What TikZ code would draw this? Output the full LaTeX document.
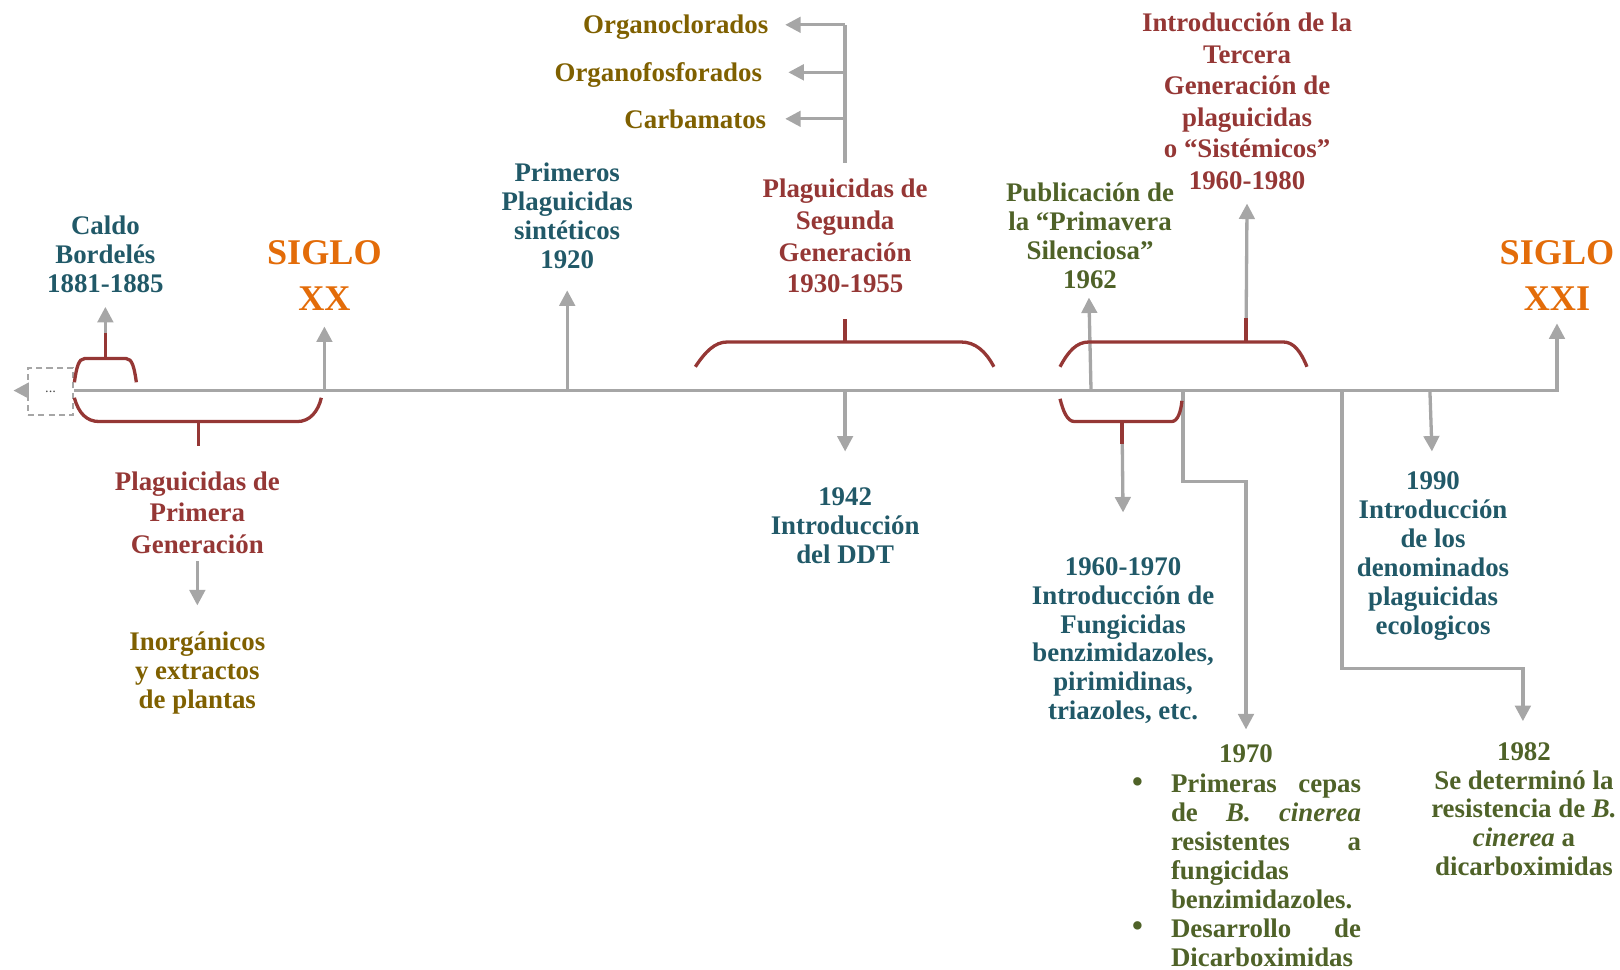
\documentclass[tikz,border=0pt]{standalone}
\usepackage{fontspec}
\setmainfont{Liberation Serif}
\usetikzlibrary{arrows.meta}
\definecolor{cteal}{HTML}{215968}
\definecolor{cred}{HTML}{953735}
\definecolor{colive}{HTML}{7F6000}
\definecolor{cgreen}{HTML}{4F6228}
\definecolor{corange}{HTML}{E36C09}
\definecolor{cgray}{HTML}{A6A6A6}
\begin{document}
\begin{tikzpicture}[x=0.5pt,y=-0.5pt,
 conn/.style={draw=cgray, line width=1.6pt, -{Triangle[length=7.5pt,width=7.5pt]}},
 gline/.style={draw=cgray, line width=1.6pt},
 brace/.style={draw=cred, line width=1.6pt},
 lbl/.style={font=\bfseries\fontsize{13}{14}\selectfont, align=center, inner sep=0pt, anchor=north},
 lblr/.style={font=\bfseries\fontsize{13}{15.3}\selectfont, align=center, inner sep=0pt, anchor=north, text=cred},
 one/.style={font=\bfseries\fontsize{13}{14}\selectfont, inner sep=0pt},
 big/.style={font=\bfseries\fontsize{17.5}{22.5}\selectfont, align=center, inner sep=0pt, anchor=north, text=corange},
 para/.style={font=\bfseries\fontsize{13}{14}\selectfont, text width=92pt, align=justify, inner sep=0pt, anchor=north west, text=cgreen}
]
\useasboundingbox (0,0) rectangle (1568,938);

% ---------- text nodes ----------
\node[lbl, text=cteal] (caldo) at (102,209) {Caldo\\Bordelés\\1881-1885};
\node[big] (s20) at (314,232) {SIGLO\\XX};
\node[lblr] (prim) at (191,456) {Plaguicidas de\\Primera\\Generación};
\node[lbl, text=colive] (inorg) at (191,611) {Inorgánicos\\y extractos\\de plantas};
\node[lbl, text=cteal] (sint) at (549,157) {Primeros\\Plaguicidas\\sintéticos\\1920};
\node[one, text=colive, anchor=base east] (oc) at (744,32) {Organoclorados};
\node[one, text=colive, anchor=base east] (of) at (738,79) {Organofosforados};
\node[one, text=colive, anchor=base east] (carb) at (742,124) {Carbamatos};
\node[lblr] (seg) at (818,173) {Plaguicidas de\\Segunda\\Generación\\1930-1955};
\node[lbl, text=cteal] (ddt) at (818,472) {1942\\Introducción\\del DDT};
\node[lbl, text=cgreen] (prv) at (1055,177) {Publicación de\\la “Primavera\\Silenciosa”\\1962};
\node[lblr] (terc) at (1207,12) {Introducción de la\\Tercera\\Generación de\\plaguicidas\\o “Sistémicos”\\1960-1980};
\node[lbl, text=cteal] (fung) at (1087,539) {1960-1970\\Introducción de\\Fungicidas\\benzimidazoles,\\pirimidinas,\\triazoles, etc.};
\node[lbl, text=cgreen] (y1970) at (1206,720) {1970};
\node[para] (b1) at (1133,749) {Primeras cepas\linebreak de \textit{B.} \textit{cinerea}\linebreak resistentes a\linebreak fungicidas\newline benzimidazoles.};
\node[para] (b2) at (1133,889) {Desarrollo de\linebreak Dicarboximidas};
\node[text=cgreen, inner sep=0pt, font=\fontsize{17}{17}\selectfont] (dot1) at (1101,760) {\textbullet};
\node[text=cgreen, inner sep=0pt, font=\fontsize{17}{17}\selectfont] (dot2) at (1101,900) {\textbullet};
\node[lbl, text=cgreen] (y1982) at (1475,718) {1982\\Se determinó la\\resistencia de \textit{B.}\\\textit{cinerea} a\\dicarboximidas};
\node[lbl, text=cteal] (y1990) at (1387,456) {1990\\Introducción\\de los\\denominados\\plaguicidas\\ecologicos};
\node[big] (s21) at (1507,232) {SIGLO\\XXI};

% ---------- dashed start box ----------
\node[draw=cgray, dashed, line width=1pt, dash pattern=on 3pt off 2pt, minimum width=22pt, minimum height=23pt, inner sep=0pt, font=\fontsize{7}{8}\selectfont, text=black!70] (start) at (49,379) {...};
\coordinate (lefttip) at (13,378);
\draw[conn] (start.west |- 0,378) -- (lefttip);

% ---------- main timeline ----------
\coordinate (t0) at (72,378);
\coordinate (tend) at (1507,378);
\draw[conn] (t0) -- (tend) -- (s21.south |- 0,313);

% ---------- up / down arrows from timeline ----------
\draw[conn] (314,378) -- (s20.south |- 0,316);
\draw[conn] (549,378) -- (sint.south |- 0,281);
\draw[conn] (818,378) -- (ddt.north |- 0,437);
\draw[conn] (1056,378) -- (1054,288);
\draw[conn] (1384,378) -- (1386,437);
\draw[conn] (1145,378) -- (1145,466) -- (1206,466) -- (y1970.north |- 0,706);
\draw[conn] (1299,378) -- (1299,647) -- (1474,647) -- (1474,698);

% ---------- bracket connectors (gray parts) ----------
\draw[conn] (102,347) -- (caldo.south |- 0,297);
\draw[conn] (1206,331) -- (terc.south |- 0,197);
\draw[conn] (1086,408) -- (fung.north |- 0,496);
\draw[conn] (prim.south |- 0,543) -- (inorg.north |- 0,586);

% Segunda generacion branches
\coordinate (sb) at (818,158);
\coordinate (st) at (818,24);
\draw[gline] (sb) -- (st);
\draw[conn] (st) -- (760,24);
\draw[conn] (818,70) -- (763,70);
\draw[conn] (818,115) -- (760,115);

% ---------- brackets ----------
\draw[brace] (72,370) .. controls (74,356) and (76,347) .. (82,347) -- (122,347) .. controls (128,347) and (130,356) .. (132,370);
\draw[brace] (102,347) -- (102,322);
\draw[brace] (72,385) .. controls (76,400) and (84,408) .. (96,408) -- (288,408) .. controls (300,408) and (308,398) .. (311,385);
\draw[brace] (192,408) -- (192,432);
\draw[brace] (673,355) .. controls (683,340) and (692,331) .. (704,331) -- (930,331) .. controls (944,331) and (954,340) .. (962,355);
\draw[brace] (818,331) -- (818,309);
\draw[brace] (1026,355) .. controls (1034,340) and (1042,331) .. (1054,331) -- (1242,331) .. controls (1252,331) and (1259,340) .. (1265,355);
\draw[brace] (1206,331) -- (1206,308);
\draw[brace] (1026,386) .. controls (1029,398) and (1033,408) .. (1040,408) -- (1134,408) .. controls (1140,408) and (1143,398) .. (1144,388);
\draw[brace] (1086,408) -- (1086,430);
\end{tikzpicture}
\end{document}
